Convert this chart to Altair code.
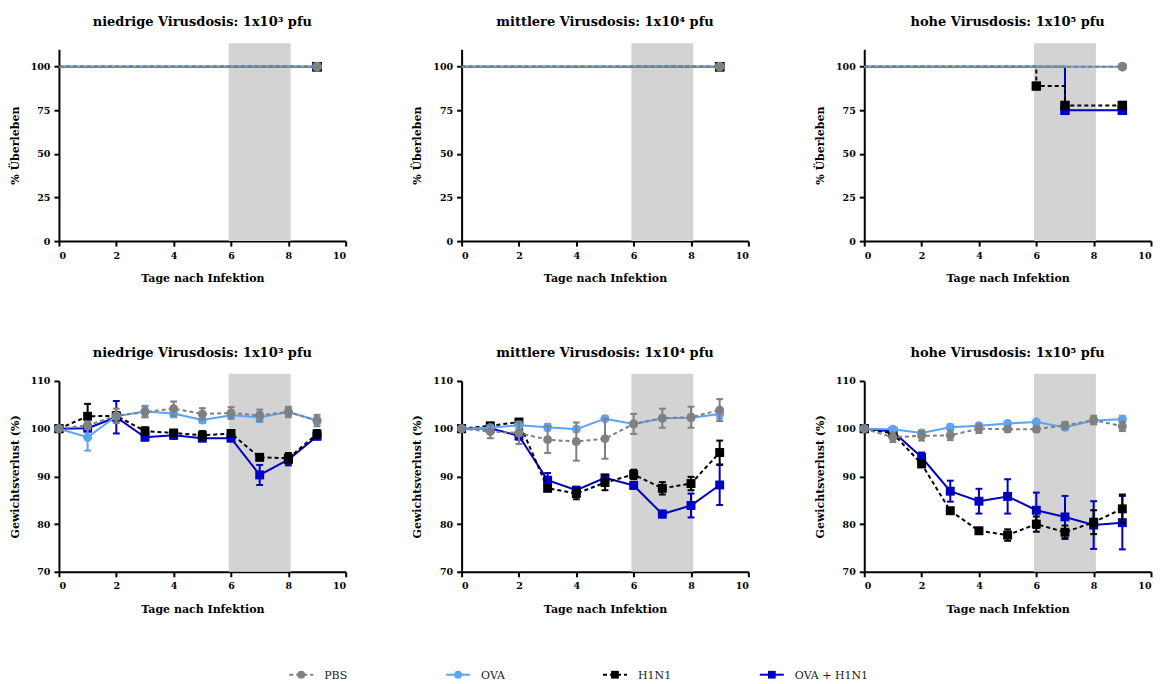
import altair as alt
import pandas as pd

# ---------------- data ----------------
SERIES = ["PBS", "OVA", "H1N1", "OVA + H1N1"]
DRAW_ORDER = ["OVA + H1N1", "H1N1", "OVA", "PBS"]
COLORS = {"PBS": "#808080", "OVA": "#5ba4f4", "H1N1": "#000000", "OVA + H1N1": "#0000c0"}
DASHED = {"PBS": True, "OVA": False, "H1N1": True, "OVA + H1N1": False}
SHAPES = {"PBS": "circle", "OVA": "circle", "H1N1": "square", "OVA + H1N1": "square"}

dose_titles = ["niedrige Virusdosis: 1x10³ pfu",
               "mittlere Virusdosis: 1x10⁴ pfu",
               "hohe Virusdosis: 1x10⁵ pfu"]
band_window = [5.92, 8.08]   # shaded days
days = [0, 1, 2, 3, 4, 5, 6, 7, 8, 9]

# body weight (%) and error
weight_low = {
    "PBS":        [100, 100.7, 102.7, 103.5, 104.2, 103.1, 103.3, 102.8, 103.5, 101.7],
    "OVA":        [100, 98.2, 102.6, 103.6, 103.2, 101.8, 102.8, 102.4, 103.5, 101.7],
    "H1N1":       [100, 102.6, 102.7, 99.5, 99.1, 98.6, 99.0, 94.0, 93.8, 98.9],
    "OVA + H1N1": [100, 100.1, 102.4, 98.2, 98.6, 98.0, 98.0, 90.3, 93.5, 98.4],
}
weight_low_err = {
    "PBS":        [0, 0.8, 1.5, 1.1, 1.5, 1.2, 1.2, 1.2, 1.1, 1.2],
    "OVA":        [0, 2.8, 0.6, 1.2, 0.8, 0.6, 0.6, 1.0, 0.8, 0.8],
    "H1N1":       [0, 2.6, 0.8, 0.8, 0.6, 0.9, 0.6, 0.6, 1.1, 0.8],
    "OVA + H1N1": [0, 0.6, 3.4, 0.6, 0.7, 0.6, 0.5, 2.1, 1.2, 0.6],
}
weight_mid = {
    "PBS":        [100, 99.4, 99.1, 97.7, 97.3, 97.9, 101.0, 102.2, 102.4, 103.9],
    "OVA":        [100, 100.2, 100.7, 100.3, 99.9, 102.1, 101.0, 102.2, 102.3, 103.1],
    "H1N1":       [100, 100.6, 101.4, 87.5, 86.4, 88.7, 90.4, 87.5, 88.5, 95.0],
    "OVA + H1N1": [100, 100.1, 98.5, 89.2, 87.1, 89.7, 88.1, 82.1, 83.9, 88.2],
}
weight_mid_err = {
    "PBS":        [0, 1.4, 2.3, 2.8, 4.0, 4.2, 2.1, 2.0, 2.2, 2.3],
    "OVA":        [0, 0.5, 0.8, 0.7, 0.5, 0.5, 0.5, 0.5, 0.6, 1.0],
    "H1N1":       [0, 0.5, 0.5, 0.6, 1.2, 1.6, 1.0, 1.3, 1.4, 2.5],
    "OVA + H1N1": [0, 0.5, 0.8, 1.5, 0.7, 0.6, 0.5, 0.7, 2.5, 4.2],
}
weight_high = {
    "PBS":        [100, 98.2, 98.5, 98.6, 100.0, 99.9, 99.9, 100.7, 101.8, 100.5],
    "OVA":        [100, 99.9, 99.1, 100.3, 100.6, 101.1, 101.4, 100.3, 101.7, 102.0],
    "H1N1":       [100, 99.0, 92.6, 82.8, 78.6, 77.7, 80.0, 78.3, 80.4, 83.2],
    "OVA + H1N1": [100, 99.4, 94.0, 86.9, 84.8, 85.8, 82.9, 81.5, 79.8, 80.3],
}
weight_high_err = {
    "PBS":        [0, 1.0, 1.0, 1.0, 0.9, 0.6, 0.6, 0.7, 0.9, 1.0],
    "OVA":        [0, 0.4, 0.5, 0.6, 0.4, 0.4, 0.4, 0.5, 0.6, 0.7],
    "H1N1":       [0, 0.5, 0.6, 0.5, 0.6, 1.2, 1.6, 1.4, 2.5, 3.0],
    "OVA + H1N1": [0, 0.5, 1.0, 2.2, 2.6, 3.6, 3.7, 4.4, 5.0, 5.6],
}

# survival (%) as step points
surv_low_days = {"PBS": [0, 9], "OVA": [0, 9], "H1N1": [0, 9], "OVA + H1N1": [0, 9]}
surv_low = {"PBS": [100, 100], "OVA": [100, 100], "H1N1": [100, 100], "OVA + H1N1": [100, 100]}
surv_mid_days = {"PBS": [0, 9], "OVA": [0, 9], "H1N1": [0, 9], "OVA + H1N1": [0, 9]}
surv_mid = {"PBS": [100, 100], "OVA": [100, 100], "H1N1": [100, 100], "OVA + H1N1": [100, 100]}
surv_high_days = {"PBS": [0, 9], "OVA": [0, 9], "H1N1": [0, 6, 7, 9], "OVA + H1N1": [0, 7, 9]}
surv_high = {"PBS": [100, 100], "OVA": [100, 100], "H1N1": [100, 88.9, 77.8, 77.8],
             "OVA + H1N1": [100, 75, 75]}

# ---------------- style ----------------
FONT = "DejaVu Serif"
W, H_TOP, H_BOT = 287, 192, 191
CAP = 0.12


def xenc(field="day"):
    return alt.X(f"{field}:Q", scale=alt.Scale(domain=[0, 10], nice=False, zero=False),
                 axis=alt.Axis(values=[0, 2, 4, 6, 8, 10], title="Tage nach Infektion",
                               titlePadding=13))


def yenc(field, domain, values, title):
    return alt.Y(f"{field}:Q", scale=alt.Scale(domain=domain, nice=False, zero=False),
                 axis=alt.Axis(values=values, title=title, titlePadding=10))


def band_layer(ymin, ytop, domain, values, title):
    bdf = pd.DataFrame({"day": [band_window[0]], "day2": [band_window[1]],
                        "v": [ymin], "v2": [ytop]})
    return alt.Chart(bdf).mark_rect(color="#d3d3d3").encode(
        x=xenc(), x2="day2:Q", y=yenc("v", domain, values, title), y2="v2:Q")


def line_kw(s):
    kw = dict(color=COLORS[s], strokeWidth=2)
    if DASHED[s]:
        kw["strokeDash"] = [4, 3]
    return kw


def weight_panel(wdict, edict, title):
    domain, values, ytitle = [70, 110], [70, 80, 90, 100, 110], "Gewichtsverlust (%)"
    layers = [band_layer(70, 111.5, domain, values, ytitle)]
    for s in DRAW_ORDER:
        df = pd.DataFrame({"day": days, "value": wdict[s], "err": edict[s]})
        df["lo"] = df["value"] - df["err"]
        df["hi"] = df["value"] + df["err"]
        edf = df[df["err"] > 0]
        base_e = alt.Chart(edf).transform_calculate(
            xl=f"datum.day - {CAP}", xr=f"datum.day + {CAP}")
        layers.append(base_e.mark_rule(color=COLORS[s], strokeWidth=2).encode(
            x=xenc(), y=yenc("lo", domain, values, ytitle), y2="hi:Q"))
        layers.append(base_e.mark_rule(color=COLORS[s], strokeWidth=2).encode(
            x=xenc("xl"), x2="xr:Q", y=yenc("lo", domain, values, ytitle)))
        layers.append(base_e.mark_rule(color=COLORS[s], strokeWidth=2).encode(
            x=xenc("xl"), x2="xr:Q", y=yenc("hi", domain, values, ytitle)))
        layers.append(alt.Chart(df).mark_line(**line_kw(s)).encode(
            x=xenc(), y=yenc("value", domain, values, ytitle)))
        layers.append(alt.Chart(df).mark_point(
            shape=SHAPES[s], filled=True, size=80, color=COLORS[s], opacity=1).encode(
            x=xenc(), y=yenc("value", domain, values, ytitle)))
    return alt.layer(*layers).properties(
        width=W, height=H_BOT,
        title=alt.TitleParams(title, font=FONT, fontSize=13, fontWeight="bold", offset=14))


def survival_panel(ddict, vdict, title):
    domain, values, ytitle = [0, 110], [0, 25, 50, 75, 100], "% Überleben"
    layers = [band_layer(0, 113.4, domain, values, ytitle)]
    for s in DRAW_ORDER:
        df = pd.DataFrame({"day": ddict[s], "value": vdict[s]})
        layers.append(alt.Chart(df).mark_line(interpolate="step-after", **line_kw(s)).encode(
            x=xenc(), y=yenc("value", domain, values, ytitle)))
        mdf = df[df["day"] > 0]
        layers.append(alt.Chart(mdf).mark_point(
            shape=SHAPES[s], filled=True, size=90, color=COLORS[s], opacity=1).encode(
            x=xenc(), y=yenc("value", domain, values, ytitle)))
    return alt.layer(*layers).properties(
        width=W, height=H_TOP,
        title=alt.TitleParams(title, font=FONT, fontSize=13, fontWeight="bold", offset=14))


panels = [
    survival_panel(surv_low_days, surv_low, dose_titles[0]),
    survival_panel(surv_mid_days, surv_mid, dose_titles[1]),
    survival_panel(surv_high_days, surv_high, dose_titles[2]),
    weight_panel(weight_low, weight_low_err, dose_titles[0]),
    weight_panel(weight_mid, weight_mid_err, dose_titles[1]),
    weight_panel(weight_high, weight_high_err, dose_titles[2]),
]

grid = alt.concat(*panels, columns=3, spacing={"row": 62, "column": 65})

# ---------------- legend ----------------
ldf = pd.DataFrame({"series": SERIES, "slot": list(range(len(SERIES)))})
lx = alt.X("slot:Q", scale=alt.Scale(domain=[0, len(SERIES) - 1], range=[0, 471],
                                     nice=False, zero=False), axis=None)
leg_layers = []
for s in SERIES:
    sdf = ldf[ldf["series"] == s]
    leg_layers.append(alt.Chart(sdf).mark_rule(
        xOffset=-12, x2Offset=12, **line_kw(s)).encode(
        x=lx, x2="slot:Q", y=alt.value(8)))
    leg_layers.append(alt.Chart(sdf).mark_point(
        shape=SHAPES[s], filled=True, size=60, color=COLORS[s], opacity=1).encode(
        x=lx, y=alt.value(8)))
    leg_layers.append(alt.Chart(sdf).mark_text(
        align="left", baseline="middle", dx=23, font=FONT, fontSize=11,
        color="#222222").encode(x=lx, y=alt.value(9), text="series:N"))
legend = alt.layer(*leg_layers).properties(width=609, height=16)

chart = alt.vconcat(grid, legend, spacing=52, center=True).properties(
    padding={"left": 1, "top": 8, "right": 5, "bottom": 5}
).configure_view(stroke=None).configure_axis(
    grid=False, domainColor="black", domainWidth=2, tickColor="black", tickWidth=2,
    tickSize=5, labelFont=FONT, labelFontWeight="bold", labelFontSize=9.5,
    labelColor="black", titleFont=FONT, titleFontWeight="bold", titleFontSize=11,
    titleColor="black", labelPadding=4
).configure_title(anchor="middle", color="black")

chart.save("out.html", embed_options={"renderer": "svg", "actions": False})
